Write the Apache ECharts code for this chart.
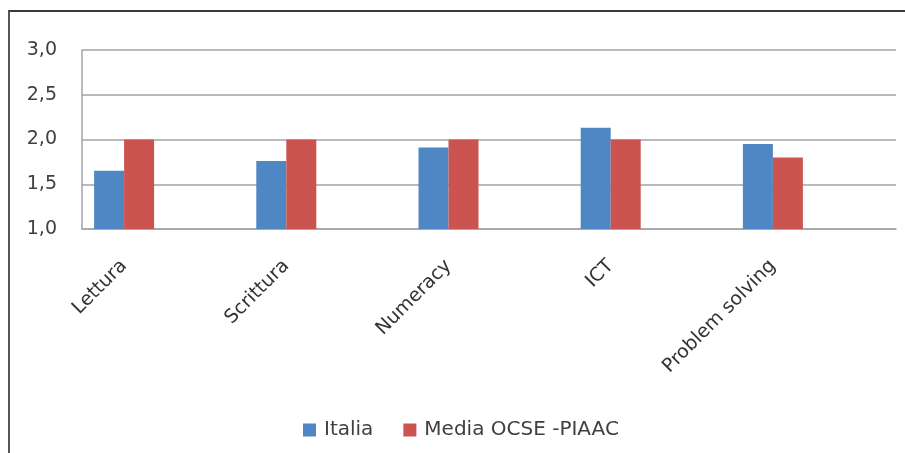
<!DOCTYPE html>
<html>
<head>
<meta charset="utf-8">
<script src="https://cdn.jsdelivr.net/npm/echarts@6/dist/echarts.min.js"></script>
<style>
html,body{margin:0;padding:0;background:#fff;}
#chart{position:absolute;left:0;top:0;width:905px;height:453px;}
#frame{position:absolute;left:8px;top:10px;width:905px;height:460px;border-left:2px solid #555;border-top:2px solid #3a3a3a;pointer-events:none;}
</style>
</head>
<body>
<div id="chart"></div>
<div id="frame"></div>
<script>
var categories = ['Lettura', 'Scrittura', 'Numeracy', 'ICT', 'Problem solving'];
var italia = [1.65, 1.76, 1.91, 2.13, 1.95];
var mediaOcse = [2.0, 2.0, 2.0, 2.0, 1.80];
var seriesNames = ['Italia', 'Media OCSE -PIAAC'];
var yMin = 1.0, yMax = 3.0, yStep = 0.5;

var FONT = 'DejaVu Sans';
var chart = echarts.init(document.getElementById('chart'), null, {renderer: 'canvas'});
chart.setOption({
  animation: false,
  backgroundColor: '#ffffff',
  textStyle: {fontFamily: FONT},
  color: ['#4F86C4', '#CC5450'],
  legend: {
    data: seriesNames,
    left: 303,
    top: 420,
    padding: 0,
    icon: 'rect',
    itemWidth: 13,
    itemHeight: 13,
    itemGap: 30,
    textStyle: {fontFamily: FONT, fontSize: 20, color: '#404040', padding: [0, 0, 0, 3]}
  },
  grid: [
    {left: 82, top: 50, width: 814, height: 179},
    {left: 43, top: 50, width: 811, height: 179}
  ],
  xAxis: [
    {
      gridIndex: 0, type: 'category', data: categories,
      axisLine: {show: true, lineStyle: {color: '#a3a3a8', width: 1.5}},
      axisTick: {show: false}, axisLabel: {show: false}, splitLine: {show: false}
    },
    {
      gridIndex: 1, type: 'category', data: categories,
      axisLine: {show: false}, axisTick: {show: false}, splitLine: {show: false},
      axisLabel: {rotate: 45, margin: 34, fontFamily: FONT, fontSize: 19, color: '#333333', interval: 0}
    }
  ],
  yAxis: [
    {
      gridIndex: 0, type: 'value', min: yMin, max: yMax, interval: yStep,
      axisLine: {show: true, lineStyle: {color: '#a3a3a8', width: 1.5}},
      axisTick: {show: false},
      splitLine: {show: true, lineStyle: {color: '#a3a3a8', width: 1.5}},
      axisLabel: {
        margin: 25, fontFamily: FONT, fontSize: 19, color: '#404040',
        formatter: function (v) { return v.toFixed(1).replace('.', ','); }
      }
    },
    {
      gridIndex: 1, type: 'value', min: yMin, max: yMax, interval: yStep, show: false,
      splitLine: {show: false}
    }
  ],
  series: [
    {
      name: seriesNames[0], type: 'bar', data: italia,
      xAxisIndex: 1, yAxisIndex: 1, barWidth: 30, barGap: '0%', z: 3
    },
    {
      name: seriesNames[1], type: 'bar', data: mediaOcse,
      xAxisIndex: 1, yAxisIndex: 1, barWidth: 30, barGap: '0%', z: 3
    }
  ]
});
</script>
</body>
</html>
